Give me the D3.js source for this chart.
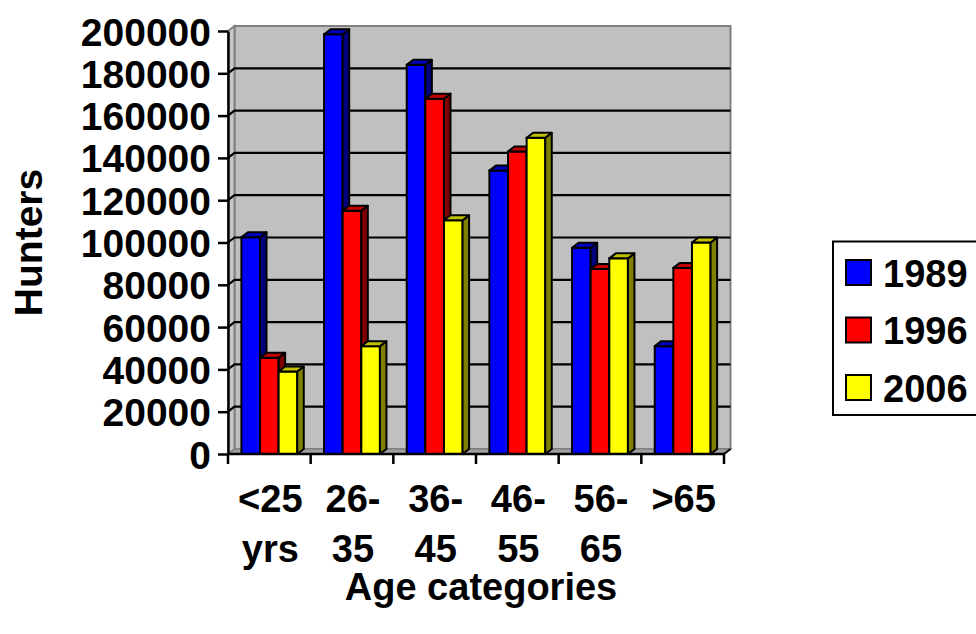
<!DOCTYPE html>
<html>
<head>
<meta charset="utf-8">
<script src="https://cdn.jsdelivr.net/npm/d3@7"></script>
<style>
  html, body { margin: 0; padding: 0; background: #fff; }
  svg { display: block; }
  text { font-family: "Liberation Sans", Arial, sans-serif; font-weight: bold; fill: #000; }
</style>
</head>
<body>
<svg id="chart" width="976" height="634"></svg>
<script>
// ---- data ----
const categories = ["<25 yrs", "26-35", "36-45", "46-55", "56-65", ">65"];
const categoryLines = [["<25", "yrs"], ["26-", "35"], ["36-", "45"], ["46-", "55"], ["56-", "65"], [">65"]];
const seriesNames = ["1989", "1996", "2006"];
const values1989 = [102500, 198500, 184000, 134000, 97500, 51000];
const values1996 = [45500, 115000, 168000, 143000, 87500, 88000];
const values2006 = [39000, 51000, 110500, 149500, 92500, 100000];
const yTicks = [0, 20000, 40000, 60000, 80000, 100000, 120000, 140000, 160000, 180000, 200000];
const yTitle = "Hunters";
const xTitle = "Age categories";

const seriesValues = [values1989, values1996, values2006];
const frontColors = ["#0000FF", "#FF0000", "#FFFF00"];
const topColors = ["#0000C0", "#C00000", "#C0C000"];
const sideColors = ["#000080", "#800000", "#808000"];

// ---- layout ----
const svg = d3.select("#chart");
const X0 = 228, X1 = 724, Y0 = 454, YTOP = 31;
const DX = 6.5, DY = -5;

const x = d3.scaleBand().domain(categories).range([X0, X1]).padding(0);
const xs = d3.scaleBand().domain(seriesNames).range([0, x.bandwidth()]).paddingInner(0).paddingOuter(0.72);
const y = d3.scaleLinear().domain([0, 200000]).range([Y0, YTOP]);

const pts = a => a.map(p => p.join(",")).join(" ");

// back wall
svg.append("rect")
  .attr("x", X0 + DX).attr("y", y(200000) + DY)
  .attr("width", X1 - X0).attr("height", y(0) - y(200000))
  .attr("fill", "#C0C0C0").attr("stroke", "#808080").attr("stroke-width", 2);
// left side wall
svg.append("polygon")
  .attr("points", pts([[X0, y(200000)], [X0 + DX, y(200000) + DY], [X0 + DX, y(0) + DY], [X0, y(0)]]))
  .attr("fill", "#C8C8C8").attr("stroke", "#808080").attr("stroke-width", 2);
// floor
svg.append("polygon")
  .attr("points", pts([[X0, y(0)], [X0 + DX, y(0) + DY], [X1 + DX, y(0) + DY], [X1, y(0)]]))
  .attr("fill", "#A0A0A0").attr("stroke", "#808080").attr("stroke-width", 1.5);

// gridlines
svg.append("g").selectAll("polyline")
  .data(yTicks.filter(v => v > 0 && v < 200000))
  .join("polyline")
  .attr("points", v => pts([[X0, y(v)], [X0 + DX, y(v) + DY], [X1 + DX, y(v) + DY]]))
  .attr("fill", "none").attr("stroke", "#000").attr("stroke-width", 2.2);

// bars
const bars = [];
categories.forEach((c, ci) => {
  seriesNames.forEach((s, si) => {
    bars.push({ c, s, si, v: seriesValues[si][ci] });
  });
});
const gBars = svg.append("g");
bars.forEach(b => {
  const bx = x(b.c) + xs(b.s), bw = xs.bandwidth();
  const yt = y(b.v), yb = y(0);
  const g = gBars.append("g");
  g.append("rect").attr("x", bx).attr("y", yt).attr("width", bw).attr("height", yb - yt)
    .attr("fill", frontColors[b.si]).attr("stroke", "#000").attr("stroke-width", 2);
  g.append("polygon")
    .attr("points", pts([[bx + bw, yt], [bx + bw + DX, yt + DY], [bx + bw + DX, yb + DY], [bx + bw, yb]]))
    .attr("fill", sideColors[b.si]).attr("stroke", "#000").attr("stroke-width", 2).attr("stroke-linejoin", "round");
  g.append("polygon")
    .attr("points", pts([[bx, yt], [bx + DX, yt + DY], [bx + bw + DX, yt + DY], [bx + bw, yt]]))
    .attr("fill", topColors[b.si]).attr("stroke", "#000").attr("stroke-width", 2).attr("stroke-linejoin", "round");
});

// y axis
const yAxis = d3.axisLeft(y).tickValues(yTicks).tickSize(10).tickSizeOuter(0).tickFormat(d3.format("d"));
const gy = svg.append("g").attr("transform", `translate(${X0},0)`).call(yAxis);
gy.select(".domain").attr("stroke", "#000").attr("stroke-width", 2.5);
gy.selectAll(".tick line").attr("stroke", "#000").attr("stroke-width", 2.5);
gy.selectAll(".tick text")
  .attr("x", -17).attr("dy", "0.36em")
  .style("font-size", "39px").style("font-family", '"Liberation Sans", Arial, sans-serif').style("font-weight", "bold").attr("fill", "#000");

// x axis line and boundary ticks
svg.append("line").attr("x1", X0).attr("x2", X1).attr("y1", Y0).attr("y2", Y0)
  .attr("stroke", "#000").attr("stroke-width", 2.5);
svg.append("line").attr("x1", X1).attr("y1", Y0).attr("x2", X1 + DX).attr("y2", Y0 + DY)
  .attr("stroke", "#000").attr("stroke-width", 2);
const boundaries = categories.map(c => x(c)).concat([x(categories[categories.length - 1]) + x.bandwidth()]);
svg.append("g").selectAll("line").data(boundaries).join("line")
  .attr("x1", d => d).attr("x2", d => d).attr("y1", Y0).attr("y2", Y0 + 10)
  .attr("stroke", "#000").attr("stroke-width", 2.5);

// x labels
const gx = svg.append("g");
categories.forEach((c, i) => {
  const t = gx.append("text").attr("text-anchor", "middle").style("font-size", "38px");
  categoryLines[i].forEach((ln, li) => {
    t.append("tspan").attr("x", x(c) + x.bandwidth() / 2 + 1).attr("y", 512 + li * 50).text(ln);
  });
});

// axis titles
svg.append("text").attr("x", 481).attr("y", 600).attr("text-anchor", "middle")
  .style("font-size", "38px").text(xTitle);
svg.append("text").attr("transform", "translate(42,242.5) rotate(-90)").attr("text-anchor", "middle")
  .style("font-size", "39px").text(yTitle);

// legend
const lg = svg.append("g");
lg.append("rect").attr("x", 833).attr("y", 241.5).attr("width", 170).attr("height", 173.5)
  .attr("fill", "#fff").attr("stroke", "#000").attr("stroke-width", 2);
seriesNames.forEach((s, i) => {
  const cy = 272.5 + i * 57.5;
  lg.append("rect").attr("x", 846).attr("y", cy - 12.5).attr("width", 25).attr("height", 25)
    .attr("fill", frontColors[i]).attr("stroke", "#000").attr("stroke-width", 2);
  lg.append("text").attr("x", 883).attr("y", cy + 14).style("font-size", "38px").text(s);
});
</script>
</body>
</html>
